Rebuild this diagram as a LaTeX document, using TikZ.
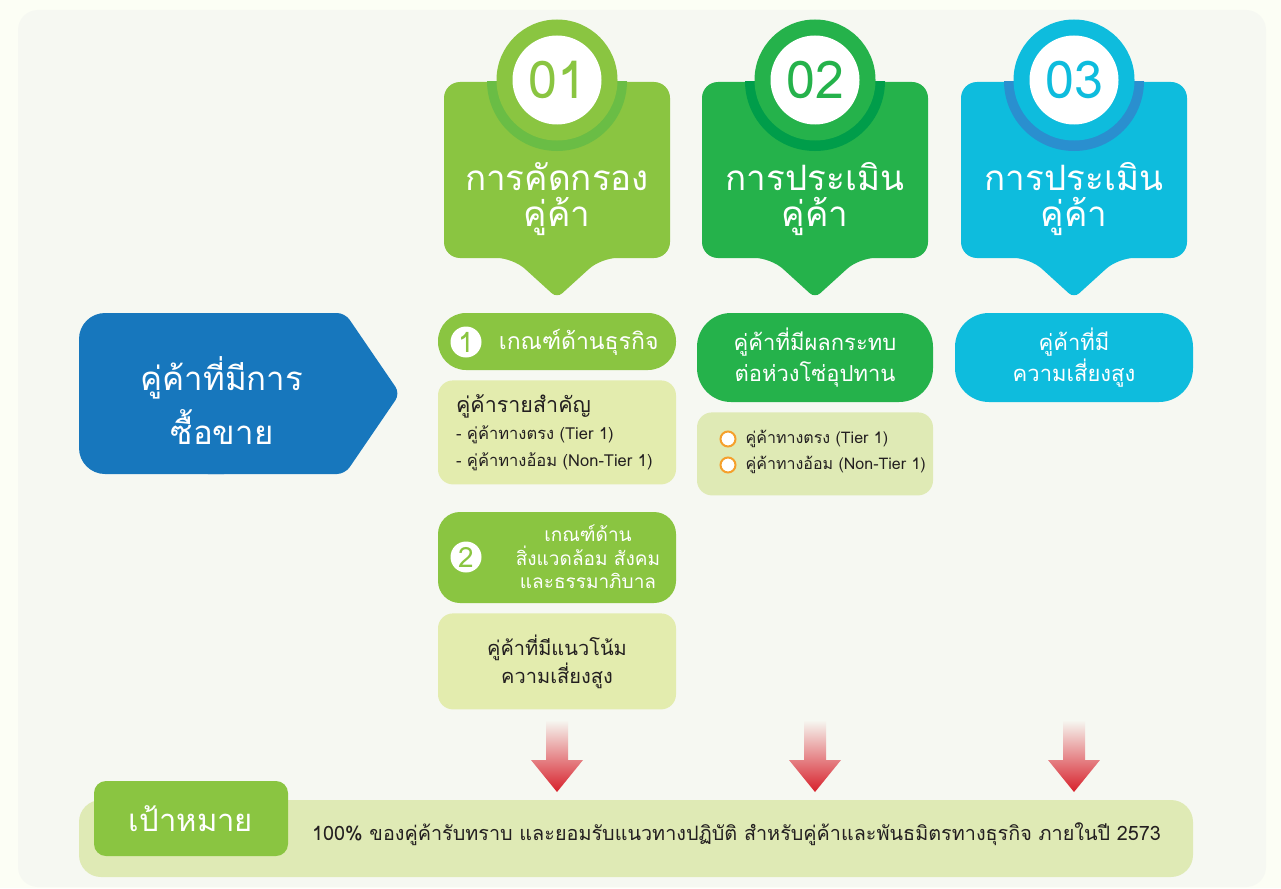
\documentclass[tikz,border=0pt]{standalone}
\usepackage{fontspec}
\setmainfont[Script=Thai]{Loma}
\usetikzlibrary{positioning}
\definecolor{outerBg}{HTML}{FCFEF5}
\definecolor{panelBg}{HTML}{F6F8F2}
\definecolor{lime}{HTML}{8AC541}
\definecolor{limeRing}{HTML}{6ABD45}
\definecolor{grass}{HTML}{25B24B}
\definecolor{grassRing}{HTML}{009D4A}
\definecolor{cyanB}{HTML}{0EBCDD}
\definecolor{cyanRing}{HTML}{2A8FCF}
\definecolor{tagBlue}{HTML}{1777BD}
\definecolor{paleA}{HTML}{E3ECAE}
\definecolor{paleB}{HTML}{DFEAB5}
\definecolor{arrowRed}{HTML}{D7202B}
\definecolor{bulletOrange}{HTML}{F5A02C}
\definecolor{darkText}{HTML}{231F20}

\begin{document}
\begin{tikzpicture}[x=1pt, y=-1pt, node distance=10pt,
headtext/.style={text=white, align=center, inner sep=0pt,
font=\fontsize{35}{36}\selectfont},
pill/.style={rectangle, rounded corners=28pt, text=white, align=center,
inner sep=0pt, minimum width=238pt},
palebox/.style={rectangle, rounded corners=15pt, fill=paleA, text=darkText,
minimum width=238pt, inner sep=0pt},
numdot/.style={circle, fill=white, text=lime, inner sep=0pt,
minimum size=31pt, font=\fontsize{28}{28}\selectfont},
bulletdot/.style={circle, draw=bulletOrange, line width=2pt, fill=white,
inner sep=0pt, minimum size=15pt},
downarrow/.style={top color=panelBg, bottom color=arrowRed}]

\fill[outerBg] (0,0) rectangle (1281,888);
\useasboundingbox (0,0) rectangle (1281,888);
\fill[panelBg, rounded corners=20pt] (18,10) rectangle (1266,887);

% supplier tag
\fill[tagBlue, rounded corners=26pt] (79,313) rectangle (250,474);
\fill[tagBlue, rounded corners=8pt] (200,313) -- (345,313) -- (400,393.5)
  -- (345,474) -- (200,474) -- cycle;
\node[headtext, font=\fontsize{33}{54}\selectfont] (tag) at (222,401)
  {คู่ค้าที่มีการ\\ซื้อขาย};

% three headers
\foreach \cx/\main/\ring/\num/\title in {557/lime/limeRing/1/การคัดกรอง,
  815/grass/grassRing/2/การประเมิน, 1074/cyanB/cyanRing/3/การประเมิน}{
  \fill[\main, rounded corners=16pt] (\cx-113,82) -- (\cx+113,82) -- (\cx+113,258)
    -- (\cx+44,258) [rounded corners=7pt] -- (\cx,298) [rounded corners=16pt]
    -- (\cx-44,258) -- (\cx-113,258) -- cycle;
  \begin{scope}
    \clip (\cx-113,82) rectangle (\cx+113,258);
    \fill[\ring] (\cx,81) circle (70);
  \end{scope}
  \node[circle, fill=\main, minimum size=121pt, inner sep=0pt] (ring\num) at (\cx,80) {};
  \node[circle, fill=white, minimum size=89pt, inner sep=0pt, text=\main,
    font=\fontsize{52}{52}\selectfont] (num\num) at (\cx,80) {0\num};
  \node[headtext] (head\num) at (\cx,199) {\title\\คู่ค้า};
}

% column 1
\node[pill, fill=lime, minimum height=57pt] (crit1) at (557,341.5) {};
\node[numdot] (dot1) at (466,342) {1};
\node[text=white, inner sep=0pt, right=17pt of dot1,
  font=\fontsize{23}{24}\selectfont] (crit1text) {เกณฑ์ด้านธุรกิจ};
\node[palebox, below=10pt of crit1, minimum height=104pt, text width=202pt,
  align=left, font=\fontsize{16.5}{27}\selectfont] (key1)
  {{\fontsize{21.5}{27}\selectfont คู่ค้ารายสำคัญ}\\- คู่ค้าทางตรง (Tier 1)\\- คู่ค้าทางอ้อม (Non-Tier 1)};
\node[pill, fill=lime, rounded corners=22pt, minimum height=91pt] (crit2) at (557,557.5) {};
\node[numdot] (dot2) at (466,557) {2};
\node[text=white, inner sep=0pt, align=center,
  font=\fontsize{19}{23.5}\selectfont] (crit2text) at (588,557)
  {เกณฑ์ด้าน\\สิ่งแวดล้อม สังคม\\และธรรมาภิบาล};
\node[palebox, below=10pt of crit2, minimum height=96pt, align=center,
  font=\fontsize{20}{28}\selectfont] (risk1) {คู่ค้าที่มีแนวโน้ม\\ความเสี่ยงสูง};

% column 2
\node[pill, fill=grass, rounded corners=34pt, minimum width=236pt, minimum height=89pt,
  font=\fontsize{22}{31}\selectfont] (impact2) at (815,357.5)
  {คู่ค้าที่มีผลกระทบ\\ต่อห่วงโซ่อุปทาน};
\node[palebox, fill=paleB, below=10pt of impact2, minimum width=236pt,
  minimum height=83pt] (tiers2) {};
\node[bulletdot] (bul1) at (728,439) {};
\node[bulletdot] (bul2) at (728,465) {};
\node[text=darkText, inner sep=0pt, right=9pt of bul1,
  font=\fontsize{16}{18}\selectfont] (tierA) {คู่ค้าทางตรง (Tier 1)};
\node[text=darkText, inner sep=0pt, right=9pt of bul2,
  font=\fontsize{16}{18}\selectfont] (tierB) {คู่ค้าทางอ้อม (Non-Tier 1)};

% column 3
\node[pill, fill=cyanB, rounded corners=34pt, minimum height=89pt,
  font=\fontsize{22}{31}\selectfont] (risk3) at (1074,357.5)
  {คู่ค้าที่มี\\ความเสี่ยงสูง};

% arrows to goal
\foreach \cx in {557,815,1074}
  \shade[downarrow] (\cx-11,720) -- (\cx+11,720) -- (\cx+11,760) -- (\cx+26,760)
    -- (\cx,792) -- (\cx-26,760) -- (\cx-11,760) -- cycle;

% goal
\node[rectangle, rounded corners=22pt, fill=paleB, minimum width=1114pt,
  minimum height=77pt, inner sep=0pt] (goalbar) at (636,838.5) {};
\node[rectangle, rounded corners=12pt, fill=lime, text=white, minimum width=194pt,
  minimum height=75pt, inner sep=0pt, font=\fontsize{31}{32}\selectfont]
  (goallabel) at (191,818.5) {เป้าหมาย};
\node[anchor=west, text=darkText, inner sep=0pt, font=\fontsize{19.8}{20}\selectfont]
  (goaltext) at (312,834)
  {100\% ของคู่ค้ารับทราบ และยอมรับแนวทางปฏิบัติ สำหรับคู่ค้าและพันธมิตรทางธุรกิจ ภายในปี 2573};
\end{tikzpicture}
\end{document}
